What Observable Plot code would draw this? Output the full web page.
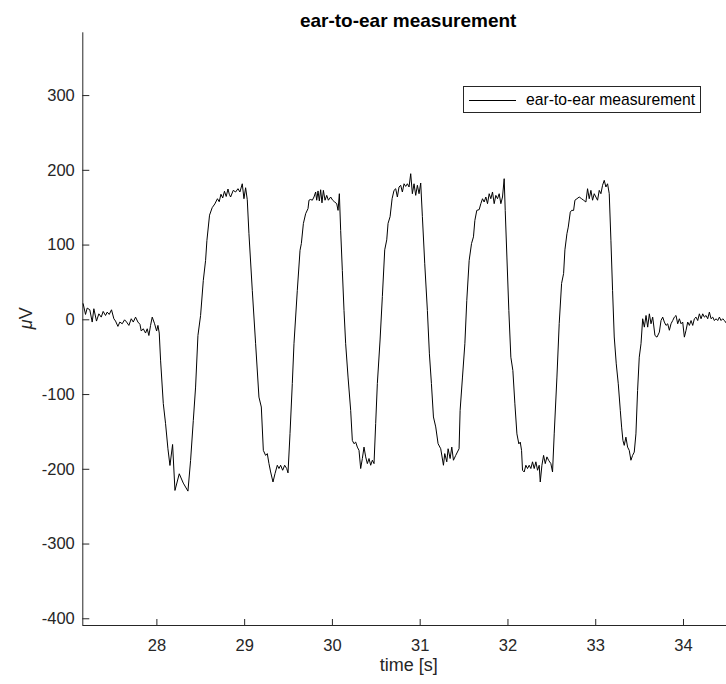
<!DOCTYPE html>
<html>
<head>
<meta charset="utf-8">
<script src="https://cdn.jsdelivr.net/npm/d3@7"></script>
<script src="https://cdn.jsdelivr.net/npm/@observablehq/plot@0.6"></script>
<style>
  html, body { margin: 0; padding: 0; background: #fff; }
  #chart { position: relative; width: 726px; height: 684px; font-family: "Liberation Sans", Arial, sans-serif; }
  .legend { position: absolute; left: 463px; top: 86px; width: 236px; height: 25px; border: 1px solid #262626; background: #fff; }
  .legend .swatch { position: absolute; left: 5px; top: 12.5px; width: 47px; height: 0; border-top: 1px solid #000; }
  .legend .label { position: absolute; left: 62px; top: 0; line-height: 25px; font-size: 15.7px; color: #000; white-space: nowrap; }
</style>
</head>
<body>
<div id="chart"></div>
<script>
// Text
const titleText = "ear-to-ear measurement";
const xLabel = "time [s]";
const yLabel = "μV";
const seriesName = "ear-to-ear measurement";

// Axes
const xTicks = [28, 29, 30, 31, 32, 33, 34];
const yTicks = [-400, -300, -200, -100, 0, 100, 200, 300];
const xDomain = [27.156, 34.49];
const yDomain = [-409, 384];

// Recorded signal: [time (s), voltage (µV)]
const samples = [
  [27.160,21.5],[27.187,7.2],[27.206,15.7],[27.236,13.4],[27.263,-3],[27.282,14.8],[27.312,-1.7],[27.339,8],
  [27.366,3.6],[27.388,11.2],[27.415,5.8],[27.434,10.3],[27.457,7.2],[27.483,13.4],[27.510,1.4],[27.529,-1.7],
  [27.556,-8.8],[27.578,-3],[27.605,-5.3],[27.632,0],[27.655,-3],[27.681,-7.5],[27.708,1.4],[27.731,-3],
  [27.757,3.6],[27.784,-3],[27.807,-6],[27.822,-15],[27.845,-12],[27.871,-17.7],[27.890,-12],[27.909,-21],
  [27.928,-7.5],[27.947,3.6],[27.974,-5.3],[27.997,-15],[28.012,-7.5],[28.027,-17.7],[28.042,-54],[28.073,-112],
  [28.099,-139],[28.126,-172.6],[28.149,-194.9],[28.179,-166.8],[28.206,-228.3],[28.255,-206],[28.301,-218.5],[28.354,-229.2],
  [28.384,-188.2],[28.415,-134.6],[28.441,-90],[28.468,-20.9],[28.498,5.8],[28.529,52.7],[28.555,79.5],
  [28.570,106],[28.600,140],[28.630,150],[28.660,155],[28.690,162],[28.710,158],[28.730,168],[28.750,163],
  [28.770,172],[28.790,165],[28.810,175],[28.825,168],
  [28.840,164.3],[28.870,173.2],[28.897,171],[28.924,175.4],[28.946,171],[28.973,182],[28.992,162],[29.011,176.7],
  [29.030,160.7],[29.049,115.2],[29.087,39.4],[29.125,-32],[29.163,-103.4],[29.190,-116.7],[29.213,-174.7],[29.239,-181.4],
  [29.258,-179],[29.277,-192.4],[29.296,-203.6],[29.323,-217],[29.346,-205.8],[29.372,-194.6],[29.391,-199],[29.410,-194.6],
  [29.433,-201.3],[29.456,-194.6],[29.479,-199],[29.494,-204.8],[29.517,-152],[29.543,-85.2],[29.562,-32],[29.600,39.4],
  [29.631,93],[29.646,102],[29.669,128.7],[29.695,142],[29.722,148.8],[29.733,160],[29.752,161],[29.771,160],
  [29.790,164.3],[29.809,171],[29.821,160],[29.836,172.4],[29.851,159],[29.866,174],[29.881,156.5],[29.897,173.2],
  [29.916,160],[29.935,166.5],[29.954,160],[29.980,164.3],[30.003,160],[30.026,157.6],[30.049,155.4],[30.064,146.4],
  [30.079,168.7],[30.094,119.6],[30.113,66],[30.132,12.5],[30.151,-32],[30.178,-76.6],[30.208,-121.2],[30.227,-161.4],
  [30.246,-165.8],[30.265,-163.6],[30.284,-170.3],[30.303,-174.7],[30.322,-199],[30.341,-185.6],[30.360,-170.3],[30.379,-183.4],
  [30.398,-192.4],[30.417,-185.6],[30.436,-194.6],[30.455,-187.9],[30.474,-192.4],[30.493,-138.8],[30.512,-85.2],[30.543,-27],
  [30.569,31],[30.596,93.6],[30.619,107],[30.634,129],[30.657,138],[30.680,162],[30.702,173.2],[30.721,175.4],
  [30.740,164.3],[30.759,177.7],[30.778,180],[30.797,171],[30.816,182],[30.835,178.5],[30.854,182],[30.873,177.7],
  [30.892,195.5],[30.911,168.7],[30.930,182],[30.949,166.5],[30.968,180],[30.987,168.7],[31.006,183],[31.025,138],
  [31.052,75],[31.082,12.5],[31.105,-45.5],[31.128,-85.2],[31.151,-130],[31.177,-143.3],[31.204,-165.8],[31.234,-172.5],
  [31.265,-194.6],[31.280,-179],[31.303,-190],[31.318,-172.5],[31.341,-185.6],[31.360,-170.3],[31.379,-187.9],[31.405,-181.4],
  [31.443,-172.5],
  [31.455,-121.2],[31.482,-76.6],[31.509,-32],[31.531,26],[31.558,79.5],[31.585,102],[31.607,111],[31.623,133],
  [31.645,146.4],[31.672,147.4],[31.691,155.4],[31.710,162],[31.729,157.6],[31.748,164.3],[31.767,155.4],[31.786,168.7],
  [31.805,162],[31.824,171],[31.843,155.4],[31.862,166.5],[31.881,162],[31.900,168.7],[31.919,155.4],[31.938,164.3],
  [31.957,188.8],[31.969,146.4],[31.988,84],[32.010,12.5],[32.033,-50],[32.056,-67.8],[32.079,-112.4],[32.102,-152.6],
  [32.124,-166],[32.140,-163.6],[32.155,-174.7],[32.166,-201.3],[32.185,-203.6],[32.204,-194.6],[32.223,-199],[32.242,-194.6],
  [32.261,-199],[32.280,-190],[32.299,-199],[32.318,-190],[32.337,-201.3],[32.356,-194.6],[32.368,-217],[32.387,-194.6],
  [32.406,-181.4],[32.425,-192.4],[32.444,-183.4],[32.463,-187.9],[32.489,-192.4],[32.508,-203.6],[32.527,-152.6],[32.558,-76.6],
  [32.584,-5],[32.611,48.6],[32.634,62],[32.649,93.6],[32.672,115.2],[32.687,124],[32.710,144],[32.725,146.4],
  [32.748,146.4],[32.763,160],[32.786,162],[32.812,164.3],[32.839,162],[32.862,160],[32.888,157.6],[32.907,175.4],
  [32.926,162],[32.945,173.2],[32.964,160],[32.983,168.7],[33.002,164.3],[33.021,160],[33.040,173.2],[33.059,168.7],
  [33.078,180],[33.097,186.6],[33.116,177.7],[33.135,182],[33.154,168.7],[33.173,106.5],[33.192,39.4],[33.211,-23],
  [33.234,-58.9],[33.257,-85.6],[33.280,-121.2],[33.295,-143.6],[33.310,-161.4],[33.325,-168],[33.344,-157],[33.363,-170.3],
  [33.382,-174.7],[33.401,-187.9],[33.420,-181.4],[33.439,-177],[33.458,-152.6],[33.477,-94.6],[33.496,-50],[33.516,-32],
  [33.535,1.4],[33.554,-9.8],[33.573,5.8],[33.592,-9.8],[33.611,8],[33.630,-5.3],[33.649,3.6],[33.675,-21],
  [33.698,-23.2],[33.725,-16.5],[33.744,-1],[33.763,3.6],[33.782,-3],[33.801,-7.5],[33.820,-5.3],[33.839,-14],
  [33.858,-5.3],[33.877,-1],[33.896,3.6],[33.915,5.8],[33.934,-5.3],[33.953,1.4],[33.972,-5.3],[33.991,-3],
  [34.010,-23.2],[34.029,-14],[34.048,-3],[34.067,-7.5],[34.086,-1],[34.105,-7.5],[34.124,1.4],[34.143,3.6],
  [34.162,-1],[34.181,8],[34.200,1.4],[34.219,8],[34.238,3.6],[34.257,5.8],[34.276,1.4],[34.295,10.3],
  [34.314,1.4],[34.333,3.6],[34.352,-1],[34.371,1.4],[34.390,-1],[34.409,3.6],[34.428,-1],[34.447,1.4],
  [34.466,-1],[34.488,-4.4]
];

const axisColor = "#262626";

const chart = Plot.plot({
  width: 726,
  height: 684,
  marginLeft: 82.3,
  marginRight: 0,
  marginTop: 32.3,
  marginBottom: 59,
  x: {domain: xDomain},
  y: {domain: yDomain},
  style: {
    fontFamily: '"Liberation Sans", Arial, sans-serif',
    fontSize: "16.5px",
    color: axisColor,
    background: "#fff",
    overflow: "visible"
  },
  marks: [
    // axis lines (left and bottom only)
    Plot.ruleY([yDomain[0]], {stroke: axisColor, strokeWidth: 1}),
    Plot.ruleX([xDomain[0]], {stroke: axisColor, strokeWidth: 1}),
    // inward ticks with plain hyphen-minus labels
    Plot.axisX(xTicks, {tickSize: -6, tickPadding: 20, tickFormat: d => String(d), label: null, stroke: axisColor, fill: axisColor}),
    Plot.axisY(yTicks, {tickSize: -7, tickPadding: 15, tickFormat: d => String(d), label: null, stroke: axisColor, fill: axisColor}),
    // signal trace
    Plot.line(samples, {x: d => d[0], y: d => d[1], stroke: "#000", strokeWidth: 1}),
    // title and axis labels
    Plot.text([titleText], {frameAnchor: "top", dx: 3.5, dy: -5.6, lineAnchor: "bottom", fontWeight: "bold", fontSize: 19, fill: "#000"}),
    Plot.text([xLabel], {frameAnchor: "bottom", dx: 4, dy: 45, lineAnchor: "bottom", fontSize: 18, fill: axisColor}),
    Plot.text([yLabel], {frameAnchor: "left", dx: -57, rotate: -90, lineAnchor: "middle", fontSize: 18, fill: axisColor})
  ]
});

// render the µ of the unit in italics
d3.select(chart).selectAll("text")
  .filter(function () { return this.textContent === yLabel; })
  .each(function () {
    const t = d3.select(this);
    t.text(null);
    t.append("tspan").attr("font-style", "italic").text("μ");
    t.append("tspan").text("V");
  });

const root = document.getElementById("chart");
root.appendChild(chart);

// legend box
const legend = document.createElement("div");
legend.className = "legend";
legend.innerHTML = '<div class="swatch"></div><div class="label"></div>';
legend.querySelector(".label").textContent = seriesName;
root.appendChild(legend);
</script>
</body>
</html>
